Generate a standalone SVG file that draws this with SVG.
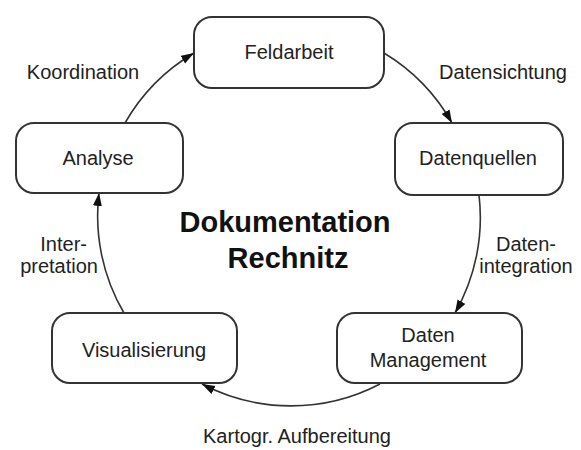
<svg xmlns="http://www.w3.org/2000/svg" width="581" height="450" viewBox="0 0 581 450">
<style>
.box{fill:#fff;stroke:#333;stroke-width:2}
.t{font-family:"Liberation Sans",Arial,sans-serif;font-size:20px;fill:#222;text-anchor:middle}
.title{font-family:"Liberation Sans",Arial,sans-serif;font-size:29px;font-weight:bold;fill:#111;text-anchor:middle}
.c{fill:none;stroke:#333;stroke-width:1.6}
</style>
<defs>
<marker id="ah" markerUnits="userSpaceOnUse" markerWidth="14" markerHeight="10" refX="13" refY="4.5" orient="auto">
<path d="M0,0 L13,4.5 L0,9 z" fill="#111"/>
</marker>
</defs>
<rect width="581" height="450" fill="#fff"/>
<g id="connectors">
<path class="c" d="M125,123 A192,192 0 0 1 194,53" marker-end="url(#ah)"/>
<path class="c" d="M384,53 A192,192 0 0 1 452,123" marker-end="url(#ah)"/>
<path class="c" d="M479,195 A192,192 0 0 1 455,313" marker-end="url(#ah)"/>
<path class="c" d="M380,384 A192,192 0 0 1 202,384" marker-end="url(#ah)"/>
<path class="c" d="M124,313 A192,192 0 0 1 99,193" marker-end="url(#ah)"/>
</g>
<g id="feldarbeit"><rect class="box" x="194" y="17" width="190" height="71" rx="18"/><text class="t" x="289" y="59">Feldarbeit</text></g>
<g id="datenquellen"><rect class="box" x="395" y="123" width="168" height="72" rx="18"/><text class="t" x="478" y="165">Datenquellen</text></g>
<g id="datenmanagement"><rect class="box" x="337" y="313" width="185" height="70" rx="18"/><text class="t" x="428" y="342">Daten</text><text class="t" x="428" y="367">Management</text></g>
<g id="visualisierung"><rect class="box" x="52" y="313" width="185" height="70" rx="18"/><text class="t" x="144" y="357">Visualisierung</text></g>
<g id="analyse"><rect class="box" x="16" y="123" width="167" height="70" rx="18"/><text class="t" x="98" y="165">Analyse</text></g>
<g id="labels">
<text class="t" x="83" y="79">Koordination</text>
<text class="t" x="503" y="79">Datensichtung</text>
<text class="t" x="526" y="251">Daten-</text>
<text class="t" x="526" y="273">integration</text>
<text class="t" x="87" y="251" style="text-anchor:end">Inter-</text>
<text class="t" x="98" y="273" style="text-anchor:end">pretation</text>
<text class="t" x="297" y="443">Kartogr. Aufbereitung</text>
</g>
<g id="title">
<text class="title" x="285" y="232">Dokumentation</text>
<text class="title" x="288" y="268">Rechnitz</text>
</g>
</svg>
